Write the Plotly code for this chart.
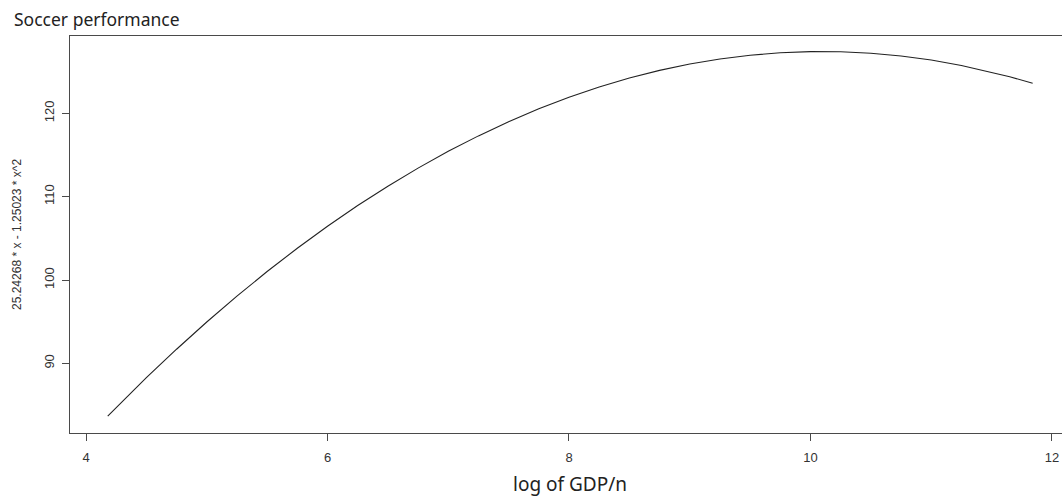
import plotly.graph_objects as go

# Fitted quadratic: 25.24268 * x - 1.25023 * x^2 over the observed log GDP/n range
log_gdp = [4.18, 4.5, 4.75, 5.0, 5.25, 5.5, 5.75, 6.0, 6.25, 6.5, 6.75, 7.0, 7.25,
           7.5, 7.75, 8.0, 8.25, 8.5, 8.75, 9.0, 9.25, 9.5, 9.75, 10.0, 10.25,
           10.5, 10.75, 11.0, 11.25, 11.5, 11.65, 11.84]
performance = [83.670, 88.275, 91.694, 94.958, 98.065, 101.015, 103.810, 106.448,
               108.930, 111.255, 113.425, 115.437, 117.294, 118.995, 120.539,
               121.927, 123.158, 124.234, 125.153, 125.916, 126.522, 126.972,
               127.266, 127.404, 127.385, 127.210, 126.879, 126.392, 125.748,
               124.948, 124.392, 123.609]

x_ticks = [4, 6, 8, 10, 12]
y_ticks = [90, 100, 110, 120]

axis_col = "#4a4a4a"
font_fam = "Liberation Sans, Arial, sans-serif"
title_fam = "Noto Sans, Open Sans, sans-serif"

fig = go.Figure()
fig.add_trace(go.Scatter(x=log_gdp, y=performance, mode="lines",
                         line=dict(color="#222222", width=1.1),
                         hoverinfo="skip", showlegend=False))

fig.update_layout(
    width=1062, height=497,
    margin=dict(l=70, r=0, t=36, b=64),
    paper_bgcolor="white", plot_bgcolor="white",
    font=dict(family=font_fam, color="#333333", size=13),
    xaxis=dict(range=[3.8675, 12.083], tickvals=x_ticks, ticktext=[str(v) for v in x_ticks],
               showgrid=False, zeroline=False, showline=True, linecolor=axis_col,
               linewidth=1, mirror=True, ticks="outside", ticklen=7,
               tickcolor=axis_col, tickfont=dict(size=13, color="#333333"),
               ticklabelstandoff=5),
    yaxis=dict(range=[81.64, 129.28], tickvals=y_ticks, ticktext=[str(v) for v in y_ticks],
               showgrid=False, zeroline=False, showline=True, linecolor=axis_col,
               linewidth=1, mirror=False, ticks="outside", ticklen=7,
               tickcolor=axis_col, tickangle=-90, tickfont=dict(size=13, color="#333333"),
               ticklabelstandoff=3),
    annotations=[
        dict(text="Soccer performance", xref="paper", yref="paper",
             x=-58/992, y=1 + 17/397, xanchor="left", yanchor="middle",
             showarrow=False, font=dict(size=17.5, color="#222222", family=title_fam)),
        dict(text="log of GDP/n", xref="paper", yref="paper",
             x=(570 - 70) / 992, y=-(484 - 433) / 397, xanchor="center", yanchor="middle",
             showarrow=False, font=dict(size=19, color="#222222", family=title_fam)),
        dict(text="25.24268 * x - 1.25023 * x^2", xref="paper", yref="paper",
             x=-(70 - 17) / 992, y=(433 - 235) / 397, xanchor="center", yanchor="middle",
             textangle=-90, showarrow=False,
             font=dict(size=12, color="#333333", family=font_fam)),
    ],
)

fig.write_html("out.html")
